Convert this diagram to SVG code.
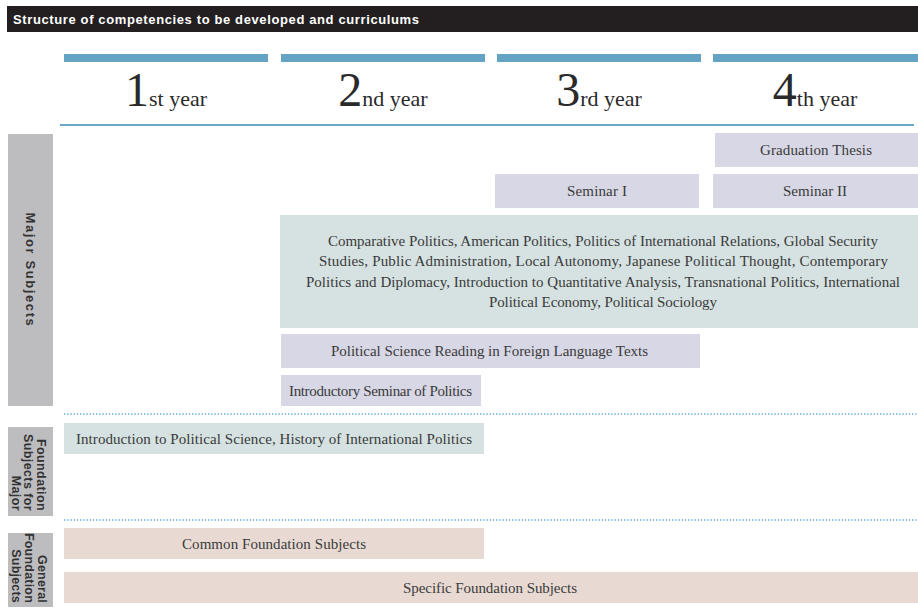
<svg xmlns="http://www.w3.org/2000/svg" width="918" height="613" viewBox="0 0 918 613">
<style>
.lbl{font-family:"Liberation Serif","Times New Roman",serif;font-size:15px;fill:#3a3a3a;text-anchor:middle}
.side{font-family:"Liberation Sans",Arial,sans-serif;font-weight:bold;fill:#333;}
.yr{font-family:"Liberation Serif","Times New Roman",serif;fill:#2a2a2a;text-anchor:middle}
.lav{fill:#d8d7e5}
.teal{fill:#d5e2e1}
.pink{fill:#e8dad3}
.gray{fill:#bdbdc0}
.bar{fill:#64a3c3}
.dot{stroke:#5fa6cc;stroke-width:1.6;stroke-dasharray:1.3 1.9;fill:none}
</style>
<rect width="918" height="613" fill="#ffffff"/>
<g id="header">
<rect x="7" y="6" width="911" height="26" fill="#231f20"/>
<text x="13" y="24" font-family="Liberation Sans, Arial, sans-serif" font-weight="bold" font-size="13" textLength="406" fill="#ffffff">Structure of competencies to be developed and curriculums</text>
</g>
<g id="years">
<rect class="bar" x="64" y="54" width="204" height="8"/>
<rect class="bar" x="281" y="54" width="204" height="8"/>
<rect class="bar" x="497" y="54" width="204" height="8"/>
<rect class="bar" x="713" y="54" width="205" height="8"/>
<text class="yr" x="166" y="106"><tspan font-size="48">1</tspan><tspan font-size="22">st year</tspan></text>
<text class="yr" x="383" y="106"><tspan font-size="48">2</tspan><tspan font-size="22">nd year</tspan></text>
<text class="yr" x="599" y="106"><tspan font-size="48">3</tspan><tspan font-size="22">rd year</tspan></text>
<text class="yr" x="815" y="106"><tspan font-size="48">4</tspan><tspan font-size="22">th year</tspan></text>
<rect x="60" y="124" width="854" height="2" fill="#6aa8c8"/>
</g>
<g id="cat-major">
<rect class="gray" x="8" y="134" width="45" height="272"/>
<text class="side" font-size="13" letter-spacing="1.6" text-anchor="middle" transform="translate(30.5,270) rotate(90)" y="4.6">Major Subjects</text>
</g>
<g id="cat-foundation-major">
<rect class="gray" x="8" y="427" width="45" height="89"/>
<g class="side" font-size="12.5" letter-spacing="0.4" text-anchor="end">
<text transform="translate(41,511) rotate(90)" y="4.5">Foundation</text>
<text transform="translate(28.5,511) rotate(90)" y="4.5">Subjects for</text>
<text transform="translate(16,511) rotate(90)" y="4.5">Major</text>
</g>
</g>
<g id="cat-general">
<rect class="gray" x="8" y="533" width="45" height="74"/>
<g class="side" font-size="12.5" letter-spacing="0.2" text-anchor="end">
<text transform="translate(42,603) rotate(90)" y="4.5">General</text>
<text transform="translate(29,603) rotate(90)" y="4.5">Foundation</text>
<text transform="translate(16,603) rotate(90)" y="4.5">Subjects</text>
</g>
</g>
<g id="connectors">
<line class="dot" x1="64" y1="414" x2="918" y2="414"/>
<line class="dot" x1="64" y1="520" x2="918" y2="520"/>
</g>
<g id="graduation-thesis">
<rect class="lav" x="715" y="133" width="203" height="34"/>
<text class="lbl" x="816" y="155" textLength="112">Graduation Thesis</text>
</g>
<g id="seminar-1">
<rect class="lav" x="495" y="174" width="204" height="34"/>
<text class="lbl" x="597" y="196" textLength="60">Seminar I</text>
</g>
<g id="seminar-2">
<rect class="lav" x="713" y="174" width="205" height="34"/>
<text class="lbl" x="815" y="196" textLength="64">Seminar II</text>
</g>
<g id="major-courses">
<rect class="teal" x="280" y="215" width="638" height="113"/>
<text class="lbl" x="603" y="245.5" textLength="550">Comparative Politics, American Politics, Politics of International Relations, Global Security</text>
<text class="lbl" x="603.5" y="266" textLength="569">Studies, Public Administration, Local Autonomy, Japanese Political Thought, Contemporary</text>
<text class="lbl" x="603" y="286.5" textLength="594">Politics and Diplomacy, Introduction to Quantitative Analysis, Transnational Politics, International</text>
<text class="lbl" x="603" y="307" textLength="228">Political Economy, Political Sociology</text>
</g>
<g id="foreign-reading">
<rect class="lav" x="281" y="334" width="419" height="34"/>
<text class="lbl" x="489.5" y="356" textLength="317">Political Science Reading in Foreign Language Texts</text>
</g>
<g id="intro-seminar">
<rect class="lav" x="281" y="375" width="200" height="31"/>
<text class="lbl" x="380.5" y="395.5" textLength="183">Introductory Seminar of Politics</text>
</g>
<g id="intro-political-science">
<rect class="teal" x="64" y="423" width="420" height="31"/>
<text class="lbl" x="274" y="443.5" textLength="396">Introduction to Political Science, History of International Politics</text>
</g>
<g id="common-foundation">
<rect class="pink" x="64" y="528" width="420" height="31"/>
<text class="lbl" x="274" y="548.5" textLength="184">Common Foundation Subjects</text>
</g>
<g id="specific-foundation">
<rect class="pink" x="64" y="572" width="854" height="31"/>
<text class="lbl" x="490" y="592.5" textLength="174">Specific Foundation Subjects</text>
</g>
</svg>
